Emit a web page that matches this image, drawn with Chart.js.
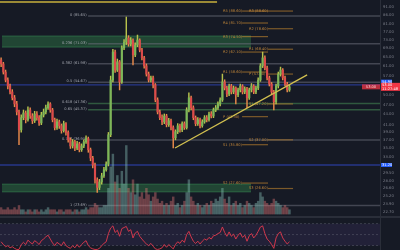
<!DOCTYPE html>
<html>
<head>
<meta charset="utf-8">
<script src="https://cdn.jsdelivr.net/npm/chart.js@4.4.1/dist/chart.umd.min.js"></script>
<style>
  html, body { margin: 0; padding: 0; background: #161a25; }
  #wrap { width: 400px; height: 250px; }
</style>
</head>
<body>
<div id="wrap"><canvas id="chart" width="400" height="250"></canvas></div>
<script>
// candles (one per slot)
const opens = [63.6, 61.9, 58.6, 55.5, 53.3, 51.2, 49.2, 47.2, 44.7, 39.6,
  43.0, 44.4, 42.4, 45.3, 43.5, 42.1, 44.1, 43.0, 41.5, 43.8,
  44.7, 46.0, 47.2, 45.3, 42.4, 40.2, 41.8, 40.7, 39.4, 41.3,
  38.9, 37.0, 35.5, 36.5, 35.0, 36.0, 34.6, 35.5, 36.5, 37.3,
  34.6, 32.7, 31.2, 28.2, 26.8, 27.8, 29.0, 30.2, 31.4, 38.3,
  55.5, 67.1, 59.4, 62.8, 54.8, 69.0, 71.8, 73.8, 70.9, 72.8,
  65.8, 70.4, 72.8, 68.0, 64.5, 61.1, 57.8, 55.5, 56.3, 53.7,
  48.5, 44.7, 43.0, 41.8, 43.5, 41.0, 42.1, 40.2, 37.5, 39.1,
  40.7, 39.6, 41.3, 40.2, 45.3, 49.2, 46.0, 43.0, 41.3, 42.4,
  40.7, 41.8, 43.0, 42.4, 44.1, 43.5, 45.3, 46.0, 47.2, 48.5,
  54.8, 52.6, 50.5, 53.3, 51.2, 52.6, 50.2, 51.9, 53.3, 51.2,
  52.3, 49.2, 51.9, 53.3, 51.2, 52.6, 55.5, 61.1, 64.5, 60.2,
  56.3, 54.0, 51.2, 47.9, 53.3, 57.8, 59.4, 56.3, 54.0, 51.9];
const closes = [61.9, 58.6, 55.5, 53.3, 51.2, 49.2, 47.2, 44.7, 39.6, 43.0,
  44.4, 42.4, 45.3, 43.5, 42.1, 44.1, 43.0, 41.5, 43.8, 44.7,
  46.0, 47.2, 45.3, 42.4, 40.2, 41.8, 40.7, 39.4, 41.3, 38.9,
  37.0, 35.5, 36.5, 35.0, 36.0, 34.6, 35.5, 36.5, 37.3, 34.6,
  32.7, 31.2, 28.2, 26.8, 27.8, 29.0, 30.2, 31.4, 38.3, 55.5,
  67.1, 59.4, 62.8, 54.8, 69.0, 71.8, 73.8, 70.9, 72.8, 65.8,
  70.4, 72.8, 68.0, 64.5, 61.1, 57.8, 55.5, 56.3, 53.7, 48.5,
  44.7, 43.0, 41.8, 43.5, 41.0, 42.1, 40.2, 37.5, 39.1, 40.7,
  39.6, 41.3, 40.2, 45.3, 49.2, 46.0, 43.0, 41.3, 42.4, 40.7,
  41.8, 43.0, 42.4, 44.1, 43.5, 45.3, 46.0, 47.2, 48.5, 54.8,
  52.6, 50.5, 53.3, 51.2, 52.6, 50.2, 51.9, 53.3, 51.2, 52.3,
  49.2, 51.9, 53.3, 51.2, 52.6, 55.5, 61.1, 64.5, 60.2, 56.3,
  54.0, 51.2, 47.9, 53.3, 57.8, 59.4, 56.3, 54.0, 51.9, 53.0];
const highs = [64.5, 62.6, 59.4, 56.3, 54.0, 52.0, 50.0, 48.0, 45.3, 43.8,
  45.3, 45.0, 46.3, 46.0, 44.2, 44.9, 44.8, 43.6, 44.6, 45.6,
  46.8, 47.9, 47.6, 45.8, 42.9, 42.6, 42.3, 41.2, 42.0, 41.6,
  39.3, 37.5, 37.1, 36.9, 36.6, 36.4, 36.0, 37.0, 38.0, 37.7,
  35.0, 33.1, 31.6, 28.6, 28.3, 29.5, 30.7, 31.9, 38.9, 57.0,
  68.4, 68.0, 64.0, 63.4, 70.0, 73.0, 85.1, 75.0, 74.0, 73.4,
  71.4, 75.3, 73.4, 68.8, 65.2, 61.9, 58.6, 57.0, 57.0, 54.2,
  49.2, 45.3, 43.8, 44.1, 44.0, 42.8, 42.6, 40.7, 39.6, 41.3,
  41.2, 41.8, 41.8, 46.0, 50.9, 49.8, 46.6, 43.5, 43.0, 42.9,
  42.4, 43.6, 43.6, 44.7, 44.8, 45.9, 46.7, 47.9, 49.2, 57.8,
  55.6, 53.3, 54.0, 53.9, 53.3, 53.0, 52.6, 54.0, 53.8, 53.0,
  52.8, 52.6, 54.2, 53.8, 53.3, 56.3, 62.0, 67.1, 65.4, 61.0,
  57.0, 54.6, 51.8, 54.0, 58.6, 60.6, 60.0, 57.0, 54.6, 53.7];
const lows = [60.8, 57.8, 54.8, 52.3, 50.5, 48.5, 46.3, 43.8, 35.8, 39.0,
  42.4, 41.5, 42.0, 42.8, 41.3, 41.6, 42.3, 40.8, 41.0, 43.2,
  44.1, 45.5, 44.6, 41.8, 39.6, 39.7, 40.0, 38.7, 39.0, 38.2,
  36.4, 34.9, 35.0, 34.4, 34.6, 34.1, 34.2, 35.1, 36.1, 34.0,
  32.1, 30.6, 27.6, 25.9, 26.4, 27.4, 28.7, 29.9, 31.0, 37.8,
  54.8, 58.4, 58.8, 51.9, 54.2, 68.2, 70.6, 69.8, 70.0, 61.5,
  65.0, 69.6, 67.2, 63.6, 60.2, 57.0, 54.8, 54.8, 52.6, 47.9,
  44.1, 42.4, 41.0, 41.3, 40.4, 40.5, 39.6, 35.0, 37.0, 38.6,
  39.0, 39.1, 39.7, 39.8, 44.7, 45.3, 42.4, 40.7, 40.8, 40.1,
  40.3, 41.4, 41.8, 42.0, 42.9, 43.0, 44.8, 45.5, 46.6, 48.0,
  51.9, 49.6, 49.9, 50.5, 50.6, 47.2, 49.6, 51.2, 50.5, 50.6,
  46.0, 48.7, 51.2, 50.6, 50.6, 52.0, 55.0, 60.4, 59.4, 55.5,
  53.3, 50.5, 45.3, 47.2, 52.6, 57.0, 55.5, 53.3, 51.2, 51.4];
const volumes = [3, 2, 2, 3, 2, 2, 3, 2, 4, 2,
  2, 1, 2, 2, 1, 2, 2, 1, 2, 1,
  2, 3, 2, 2, 2, 1, 2, 2, 1, 2,
  2, 2, 1, 2, 2, 1, 2, 2, 3, 2,
  3, 3, 5, 4, 3, 3, 4, 4, 12, 22,
  28, 15, 18, 12, 20, 14, 32, 12, 10, 16,
  9, 14, 8, 10, 7, 12, 9, 6, 8, 10,
  7, 5, 6, 4, 5, 4, 6, 8, 4, 5,
  3, 4, 6, 10, 16, 8, 6, 4, 5, 4,
  3, 4, 5, 4, 6, 5, 7, 6, 8, 12,
  7, 5, 8, 4, 5, 6, 4, 5, 3, 4,
  6, 5, 4, 3, 5, 6, 10, 8, 6, 5,
  4, 5, 7, 6, 5, 4, 3, 4, 3, 2];
const rsiValues = [37, 32, 28, 30, 26, 28, 25, 23, 23, 32,
  36, 32, 40, 36, 33, 39, 36, 32, 39, 42,
  46, 49, 42, 35, 30, 36, 33, 30, 37, 30,
  27, 25, 30, 26, 32, 27, 32, 36, 39, 30,
  26, 24, 23, 23, 25, 30, 34, 37, 52, 62,
  66, 54, 58, 47, 61, 63, 65, 56, 59, 44,
  53, 56, 47, 42, 37, 33, 30, 34, 29, 24,
  23, 24, 26, 32, 27, 32, 28, 24, 32, 37,
  34, 40, 36, 50, 56, 46, 38, 34, 38, 33,
  38, 42, 40, 45, 42, 48, 49, 52, 54, 64,
  54, 47, 55, 47, 51, 42, 49, 53, 45, 49,
  38, 48, 52, 44, 49, 56, 64, 66, 52, 42,
  38, 32, 25, 44, 52, 55, 44, 38, 33, 37];

// axis ticks
const priceTicks = [91, 86, 81, 77, 73, 69, 65, 61, 57, 50, 47, 44, 41, 39, 37, 35, 33, 29.5, 28, 26.6, 25.2, 23.9, 22.7];
const rsiTicks = [40, 60, 80];

// drawings
const fibRatios = ['0', '0.236', '0.382', '0.5', '0.618', '0.65', '0.786', '1'];
const fibLevels = [85.65, 71.03, 61.98, 54.67, 47.36, 45.37, 36.95, 23.69];
const zoneTops = [74.8, 27.4];
const zoneBottoms = [69.4, 26.0];
const blueLevels = [53.7, 31.2];
const pivotNamesA = ['R5', 'R4', 'R3', 'R2', 'R1', 'P', 'S1', 'S2'];
const pivotLevelsA = [88.6, 81.7, 74.5, 67.1, 58.6, 43.3, 35.8, 27.6];
const pivotNamesB = ['R3', 'R2', 'R1', 'P', 'S1', 'S2', 'S3'];
const pivotLevelsB = [88.6, 78.6, 68.4, 57.8, 47.2, 37.0, 26.6];
const trendPoints = [{ x: 77.8, y: 35.0 }, { x: 136.9, y: 57.5 }];
const topLine = [{ x: -0.5, y: 94.2 }, { x: 96.6, y: 94.2 }];
const blueAxisMarks = [54.9, 31.2];

const isUp = closes.map((c, i) => c >= opens[i]);

function hline(ctx, x0, x1, yy, color, w, dash) {
    ctx.save();
    ctx.strokeStyle = color;
    ctx.lineWidth = w;
    ctx.setLineDash(dash || []);
    ctx.beginPath();
    ctx.moveTo(x0, yy);
    ctx.lineTo(x1, yy);
    ctx.stroke();
    ctx.restore();
}

function tinyText(ctx, txt, x, y, color, align) {
    ctx.save();
    ctx.font = '3.6px "DejaVu Sans"';
    ctx.fillStyle = color;
    ctx.textAlign = align || 'left';
    ctx.textBaseline = 'middle';
    ctx.fillText(txt, x, y);
    ctx.restore();
}

// no label padding, the panes must fill the whole canvas height
function flatAxis(width) {
    return s => { s.width = width; s.paddingTop = 0; s.paddingBottom = 0; };
}

const overlay = {
    id: 'overlay',
    beforeDraw(chart) {
        const ctx = chart.ctx;
        ctx.save();
        ctx.fillStyle = '#161a25';
        ctx.fillRect(0, 0, chart.width, chart.height);
        ctx.restore();
    },
    beforeDatasetsDraw(chart) {
        const ctx = chart.ctx;
        const a = chart.chartArea;
        const { x, y, rsi } = chart.scales;

        // rsi pane
        const r70 = rsi.getPixelForValue(70), r30 = rsi.getPixelForValue(30);
        ctx.save();
        ctx.fillStyle = 'rgba(126,87,194,0.12)';
        ctx.fillRect(a.left, r70, a.right - a.left, r30 - r70);
        ctx.restore();
        [70, 50, 30].forEach(v => hline(ctx, a.left, a.right, rsi.getPixelForValue(v), 'rgba(120,123,134,0.45)', 0.8, [2, 2]));
        hline(ctx, a.left, a.right + 20, rsi.getPixelForValue(84) + 1, '#2a2e39', 2);

        // green zones
        zoneTops.forEach((t, i) => {
            const x0 = x.getPixelForValue(0.4), x1 = x.getPixelForValue(111.8);
            const y0 = y.getPixelForValue(t), y1 = y.getPixelForValue(zoneBottoms[i]);
            ctx.save();
            ctx.fillStyle = 'rgba(46,125,72,0.45)';
            ctx.fillRect(x0, y0, x1 - x0, y1 - y0);
            ctx.restore();
            hline(ctx, x0, x1, y0, 'rgba(60,150,90,0.5)', 1);
            hline(ctx, x0, x1, y1, 'rgba(60,150,90,0.5)', 1);
        });

        // blue horizontal lines
        blueLevels.forEach(v => hline(ctx, a.left, a.right, y.getPixelForValue(v), '#27378a', 1.4));

        // fib retracement
        const fx = x.getPixelForValue(38.9);
        fibLevels.forEach((v, i) => {
            const py = y.getPixelForValue(v);
            const green = fibRatios[i] === '0.618' || fibRatios[i] === '0.65';
            hline(ctx, fx, a.right, py, green ? 'rgba(55,105,70,0.8)' : 'rgba(105,108,120,0.55)', 1.5);
            tinyText(ctx, fibRatios[i] + ' (' + v.toFixed(2) + ')', fx - 1.5, py - 1, '#a3a6af', 'right');
        });

        // pivot points
        const drawPivots = (names, levels, labelAt, from, to) => {
            levels.forEach((v, i) => {
                const py = y.getPixelForValue(v);
                hline(ctx, x.getPixelForValue(from), x.getPixelForValue(to), py, 'rgba(180,125,45,0.65)', 1.2);
                tinyText(ctx, names[i] + ' (' + v.toFixed(2) + ')', x.getPixelForValue(labelAt), py, '#c2873a', 'left');
            });
        };
        drawPivots(pivotNamesA, pivotLevelsA, 99.3, 107.8, 119.4);
        drawPivots(pivotNamesB, pivotLevelsB, 110.9, 119.4, 130.6);
    },
    afterDatasetsDraw(chart) {
        const ctx = chart.ctx;
        const a = chart.chartArea;
        const y = chart.scales.y;
        const last = closes[closes.length - 1];
        const py = y.getPixelForValue(last);

        // price box on the chart
        ctx.save();
        ctx.fillStyle = 'rgba(242,54,69,0.75)';
        ctx.fillRect(a.right - 18, py - 2.5, 18, 5);
        ctx.restore();
        tinyText(ctx, last.toFixed(2), a.right - 9, py, '#ffd6d9', 'center');

        // axis labels
        blueAxisMarks.forEach(v => {
            const by = y.getPixelForValue(v);
            ctx.save();
            ctx.fillStyle = '#2962ff';
            ctx.fillRect(a.right + 1, by - 2, 11, 4);
            ctx.restore();
            tinyText(ctx, v.toFixed(2), a.right + 2, by, '#ffffff', 'left');
        });
        ctx.save();
        ctx.fillStyle = '#f23645';
        ctx.fillRect(a.right + 1, py - 4, 19, 8);
        ctx.restore();
        tinyText(ctx, last.toFixed(2), a.right + 2, py - 1.8, '#ffffff', 'left');
        tinyText(ctx, '11:27:48', a.right + 2, py + 1.8, '#ffffff', 'left');
    }
};

const wickData = highs.map((h, i) => ({ x: i, y: [lows[i], h] }));
const bodyData = opens.map((o, i) => ({ x: i, y: [Math.min(o, closes[i]), Math.max(o, closes[i])] }));
const volData = volumes.map((v, i) => ({ x: i, y: v }));
const rsiData = rsiValues.map((v, i) => ({ x: i, y: v }));

new Chart(document.getElementById('chart'), {
    type: 'bar',
    data: {
        datasets: [
            { type: 'line', data: topLine, yAxisID: 'y', borderColor: '#c9b13c', borderWidth: 1.4, pointRadius: 0, order: 1 },
            { type: 'line', data: trendPoints, yAxisID: 'y', borderColor: '#d2c050', borderWidth: 1.3, pointRadius: 0, order: 1 },
            { type: 'line', data: rsiData, yAxisID: 'rsi', borderColor: '#e2394d', borderWidth: 0.9, pointRadius: 0, order: 1 },
            { data: bodyData, yAxisID: 'y', grouped: false, barThickness: 1.5, backgroundColor: isUp.map(u => u ? '#7cb75a' : '#dd4a4a'), borderWidth: 0, order: 2 },
            { data: wickData, yAxisID: 'y', grouped: false, barThickness: 0.8, backgroundColor: isUp.map(u => u ? '#b8c24c' : '#e8894a'), borderWidth: 0, order: 3 },
            { data: volData, yAxisID: 'vol', grouped: false, barThickness: 1.8, backgroundColor: isUp.map(u => u ? 'rgba(140,200,190,0.4)' : 'rgba(230,120,120,0.4)'), borderWidth: 0, order: 5 }
        ]
    },
    options: {
        responsive: false,
        animation: false,
        events: [],
        layout: { padding: 0 },
        plugins: { legend: { display: false }, tooltip: { enabled: false } },
        scales: {
            x: { type: 'linear', min: -0.5, max: 169.5, offset: false, display: false },
            y: {
                type: 'logarithmic', position: 'right', weight: 1, min: 17.53, max: 95.5,
                afterBuildTicks: s => { s.ticks = priceTicks.map(v => ({ value: v })); },
                afterFit: flatAxis(20),
                grid: { display: false, drawTicks: false },
                border: { display: true, color: '#2a2e39', width: 1 },
                ticks: { color: '#7c7f8a', font: { size: 3.8, family: 'DejaVu Sans' }, padding: 3, autoSkip: false, callback: v => Number(v).toFixed(2) }
            },
            rsi: {
                type: 'linear', position: 'right', weight: 0, min: 22, max: 478,
                afterBuildTicks: s => { s.ticks = rsiTicks.map(v => ({ value: v })); },
                afterFit: flatAxis(0),
                grid: { display: false, drawTicks: false },
                border: { display: false },
                ticks: { color: '#7c7f8a', font: { size: 3.8, family: 'DejaVu Sans' }, padding: 3, autoSkip: false, callback: v => Number(v).toFixed(2) }
            },
            vol: { type: 'linear', display: false, min: -16.8, max: 100, afterFit: s => { s.paddingTop = 0; s.paddingBottom = 0; } }
        }
    },
    plugins: [overlay]
});
</script>
</body>
</html>
